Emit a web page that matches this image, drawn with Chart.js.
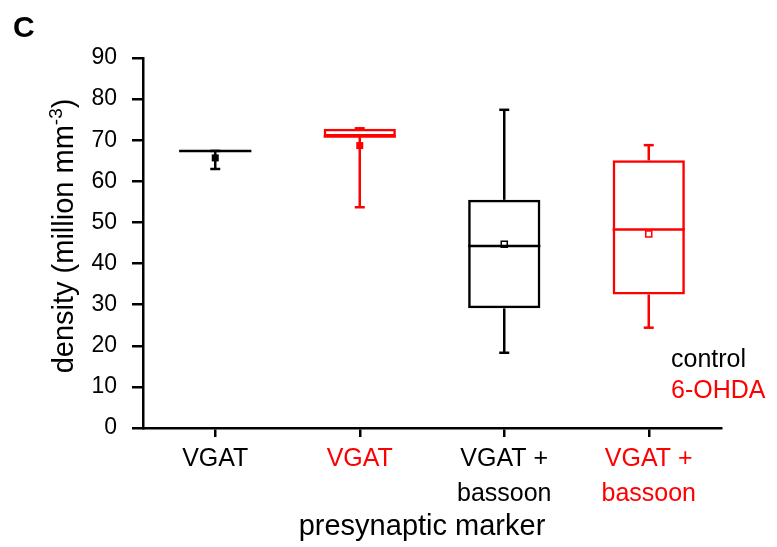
<!DOCTYPE html>
<html lang="en">
<head>
    <meta charset="UTF-8">
    <script src="https://cdn.jsdelivr.net/npm/chart.js"></script>
    <title>Density box plot</title>
    <style>
        html, body { margin: 0; padding: 0; background: #fff; }
        #wrap { width: 777px; height: 547px; position: relative; }
    </style>
</head>
<body>
    <div id="wrap"><canvas id="boxChart"></canvas></div>
    <script>
        // categories and box plot values
        const categories = [['VGAT'], ['VGAT'], ['VGAT +', 'bassoon'], ['VGAT +', 'bassoon']];
        const minVals    = [63.0, 53.7, 18.3, 24.4];
        const q1Vals     = [67.3, 70.9, 29.1, 32.5];
        const medianVals = [67.4, 70.9, 44.3, 48.3];
        const q3Vals     = [67.4, 72.8, 55.5, 65.1];
        const maxVals    = [67.4, 72.9, 77.4, 68.8];
        const meanVals   = [65.7, 68.7, 44.7, 47.2];
        const yTicks     = [0, 10, 20, 30, 40, 50, 60, 70, 80, 90];

        const groupColors = ['#000000', '#ff0000', '#000000', '#ff0000'];
        const meanFilled  = [true, true, false, false];
        const FONT = '"Liberation Sans", Arial, sans-serif';

        // whiskers, medians, means and the extra texts
        const boxExtras = {
            id: 'boxExtras',
            afterDatasetsDraw(chart) {
                const ctx = chart.ctx;
                const x = chart.scales.x, y = chart.scales.y;
                const meta = chart.getDatasetMeta(0);
                ctx.save();
                ctx.lineWidth = 2.5;
                categories.forEach((c, i) => {
                    const cx = x.getPixelForValue(i);
                    const half = meta.data[i].width / 2;
                    ctx.strokeStyle = groupColors[i];
                    ctx.fillStyle = groupColors[i];
                    const line = (x1, y1, x2, y2) => {
                        ctx.beginPath(); ctx.moveTo(x1, y1); ctx.lineTo(x2, y2); ctx.stroke();
                    };
                    // median
                    line(cx - half, y.getPixelForValue(medianVals[i]), cx + half, y.getPixelForValue(medianVals[i]));
                    // whiskers + caps
                    line(cx, y.getPixelForValue(q3Vals[i]), cx, y.getPixelForValue(maxVals[i]));
                    line(cx, y.getPixelForValue(q1Vals[i]), cx, y.getPixelForValue(minVals[i]));
                    line(cx - 5, y.getPixelForValue(maxVals[i]), cx + 5, y.getPixelForValue(maxVals[i]));
                    line(cx - 5, y.getPixelForValue(minVals[i]), cx + 5, y.getPixelForValue(minVals[i]));
                    // mean marker
                    const my = y.getPixelForValue(meanVals[i]);
                    if (meanFilled[i]) {
                        ctx.fillRect(cx - 3.5, my - 3.5, 7, 7);
                    } else {
                        ctx.lineWidth = 1.5;
                        ctx.strokeRect(cx - 3, my - 3, 6, 6);
                        ctx.lineWidth = 2.5;
                    }
                });

                // panel letter
                ctx.fillStyle = '#000';
                ctx.textAlign = 'left';
                ctx.textBaseline = 'alphabetic';
                ctx.font = 'bold 30px ' + FONT;
                ctx.fillText('C', 13, 37);

                // legend
                ctx.font = '25px ' + FONT;
                ctx.fillStyle = '#000';
                ctx.fillText('control', 671, 367);
                ctx.fillStyle = '#ff0000';
                ctx.fillText('6-OHDA', 671, 398);

                // x title
                ctx.fillStyle = '#000';
                ctx.font = '29px ' + FONT;
                ctx.textAlign = 'center';
                ctx.fillText('presynaptic marker', 422, 535);

                // y title with superscript
                const main = 'density (million mm';
                const sup = '-3';
                const tail = ')';
                const big = '29px ' + FONT, small = '19px ' + FONT;
                ctx.font = big;
                const wMain = ctx.measureText(main).width;
                const wTail = ctx.measureText(tail).width;
                ctx.font = small;
                const wSup = ctx.measureText(sup).width;
                const total = wMain + wSup + wTail;
                ctx.translate(73, 236);
                ctx.rotate(-Math.PI / 2);
                ctx.textAlign = 'left';
                let pos = -total / 2;
                ctx.font = big;
                ctx.fillText(main, pos, 0);
                pos += wMain;
                ctx.font = small;
                ctx.fillText(sup, pos, -11);
                pos += wSup;
                ctx.font = big;
                ctx.fillText(tail, pos, 0);
                ctx.restore();
            }
        };

        new Chart(document.getElementById('boxChart'), {
            type: 'bar',
            data: {
                labels: categories,
                datasets: [{
                    data: q1Vals.map((q, i) => [q, q3Vals[i]]),
                    backgroundColor: 'rgba(0,0,0,0)',
                    borderColor: groupColors,
                    borderWidth: 2.5,
                    borderSkipped: false,
                    categoryPercentage: 1,
                    barPercentage: 0.5
                }]
            },
            options: {
                responsive: true,
                maintainAspectRatio: false,
                animation: false,
                layout: { padding: { left: 0, right: 56, top: 58, bottom: 0 } },
                plugins: { legend: { display: false }, tooltip: { enabled: false } },
                scales: {
                    x: {
                        afterFit: s => { s.height = 119; },
                        grid: { drawOnChartArea: false, offset: false, tickLength: 9, lineWidth: 2.5, color: '#000' },
                        border: { color: '#000', width: 2.5 },
                        ticks: {
                            color: c => groupColors[c.index],
                            font: { family: FONT, size: 25, lineHeight: 1.4 },
                            padding: 5,
                            maxRotation: 0
                        }
                    },
                    y: {
                        min: 0,
                        max: 90,
                        afterFit: s => { s.width = 143; },
                        afterBuildTicks: s => { s.ticks = yTicks.map(v => ({ value: v })); },
                        grid: { drawOnChartArea: false, tickLength: 11, lineWidth: 2.5, color: '#000' },
                        border: { color: '#000', width: 2.5 },
                        ticks: {
                            color: '#000',
                            font: { family: FONT, size: 23 },
                            padding: 15
                        }
                    }
                }
            },
            plugins: [boxExtras]
        });
    </script>
</body>
</html>
